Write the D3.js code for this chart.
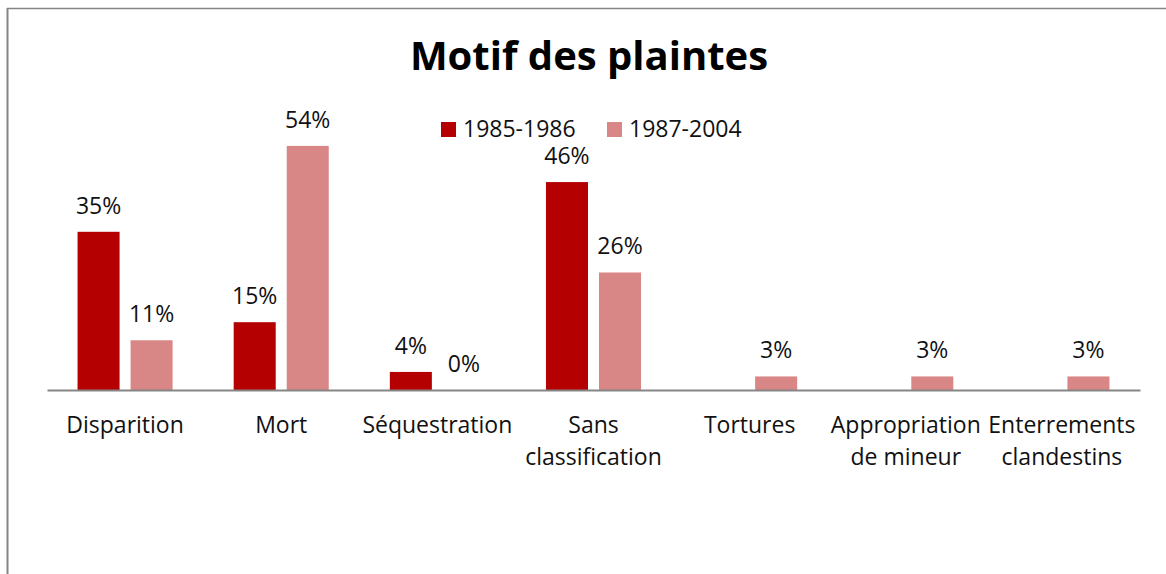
<!DOCTYPE html>
<html>
<head>
<meta charset="utf-8">
<script src="https://cdn.jsdelivr.net/npm/d3@7"></script>
<style>
  body { margin: 0; background: #fff; }
  svg { display: block; font-family: "Open Sans", sans-serif; }
</style>
</head>
<body>
<div id="chart"></div>
<script>
const width = 1166;
const height = 574;

const categories = [
  "Disparition",
  "Mort",
  "Séquestration",
  "Sans classification",
  "Tortures",
  "Appropriation de mineur",
  "Enterrements clandestins"
];
// label lines for the axis
const categoryLines = [
  ["Disparition"],
  ["Mort"],
  ["Séquestration"],
  ["Sans", "classification"],
  ["Tortures"],
  ["Appropriation", "de mineur"],
  ["Enterrements", "clandestins"]
];
const seriesNames = ["1985-1986", "1987-2004"];
const values8586 = [35, 15, 4, 46, null, null, null];
const values8704 = [11, 54, 0, 26, 3, 3, 3];
const colors = ["#b40000", "#d98686"];

const fontSize = 23;

const svg = d3
  .select("#chart")
  .append("svg")
  .attr("width", width)
  .attr("height", height);

// frame (only top and left edges show)
svg.append("line")
  .attr("x1", 7).attr("x2", width).attr("y1", 8.5).attr("y2", 8.5)
  .attr("stroke", "#858585").attr("stroke-width", 1.5);
svg.append("line")
  .attr("x1", 7.5).attr("x2", 7.5).attr("y1", 8).attr("y2", height)
  .attr("stroke", "#858585").attr("stroke-width", 2);

const xScale = d3.scaleBand().domain(categories).range([47, 1140]);
const xInner = d3
  .scaleBand()
  .domain(seriesNames)
  .range([0, xScale.bandwidth()])
  .paddingInner(11 / 53)
  .paddingOuter(0.576);
const yScale = d3.scaleLinear().domain([0, 60]).range([390, 390 - 271.2]);

const rows = categories.map((c, i) => ({
  cat: c,
  vals: [values8586[i], values8704[i]]
}));

const groups = svg
  .selectAll("g.cat")
  .data(rows)
  .enter()
  .append("g")
  .attr("class", "cat")
  .attr("transform", (d) => `translate(${xScale(d.cat)},0)`);

groups
  .selectAll("rect")
  .data((d) => d.vals.map((v, j) => ({ v, s: seriesNames[j], j })))
  .enter()
  .filter((d) => d.v !== null)
  .append("rect")
  .attr("x", (d) => xInner(d.s))
  .attr("width", xInner.bandwidth())
  .attr("y", (d) => yScale(d.v))
  .attr("height", (d) => yScale(0) - yScale(d.v))
  .attr("fill", (d) => colors[d.j]);

groups
  .selectAll("text.val")
  .data((d) => d.vals.map((v, j) => ({ v, s: seriesNames[j], j })))
  .enter()
  .filter((d) => d.v !== null)
  .append("text")
  .attr("class", "val")
  .attr("x", (d) => xInner(d.s) + xInner.bandwidth() / 2)
  .attr("y", (d) => yScale(d.v) - 18)
  .attr("text-anchor", "middle")
  .style("font-size", fontSize + "px")
  .attr("fill", "#111")
  .text((d) => d.v + "%");

// x axis
const xAxis = d3.axisBottom(xScale).tickSize(0).tickFormat("");
const axisG = svg
  .append("g")
  .attr("transform", `translate(0, ${yScale(0)})`)
  .call(xAxis);
axisG.select(".domain").attr("stroke", "#868686").attr("stroke-width", 2);

categories.forEach((c, i) => {
  const t = svg
    .append("text")
    .attr("text-anchor", "middle")
    .style("font-size", fontSize + "px")
    .attr("fill", "#111");
  categoryLines[i].forEach((line, k) => {
    t.append("tspan")
      .attr("x", xScale(c) + xScale.bandwidth() / 2)
      .attr("y", 433 + k * 32)
      .text(line);
  });
});

// title
svg
  .append("text")
  .attr("x", 589)
  .attr("y", 70)
  .attr("text-anchor", "middle")
  .style("font-size", "40px")
  .style("font-weight", "bold")
  .attr("fill", "#000")
  .text("Motif des plaintes");

// legend
const legendX = [441, 607];
seriesNames.forEach((name, i) => {
  svg
    .append("rect")
    .attr("x", legendX[i])
    .attr("y", 122)
    .attr("width", 15)
    .attr("height", 15)
    .attr("fill", colors[i]);
  svg
    .append("text")
    .attr("x", legendX[i] + 22)
    .attr("y", 136.5)
    .style("font-size", fontSize + "px")
    .attr("fill", "#111")
    .text(name);
});
</script>
</body>
</html>
